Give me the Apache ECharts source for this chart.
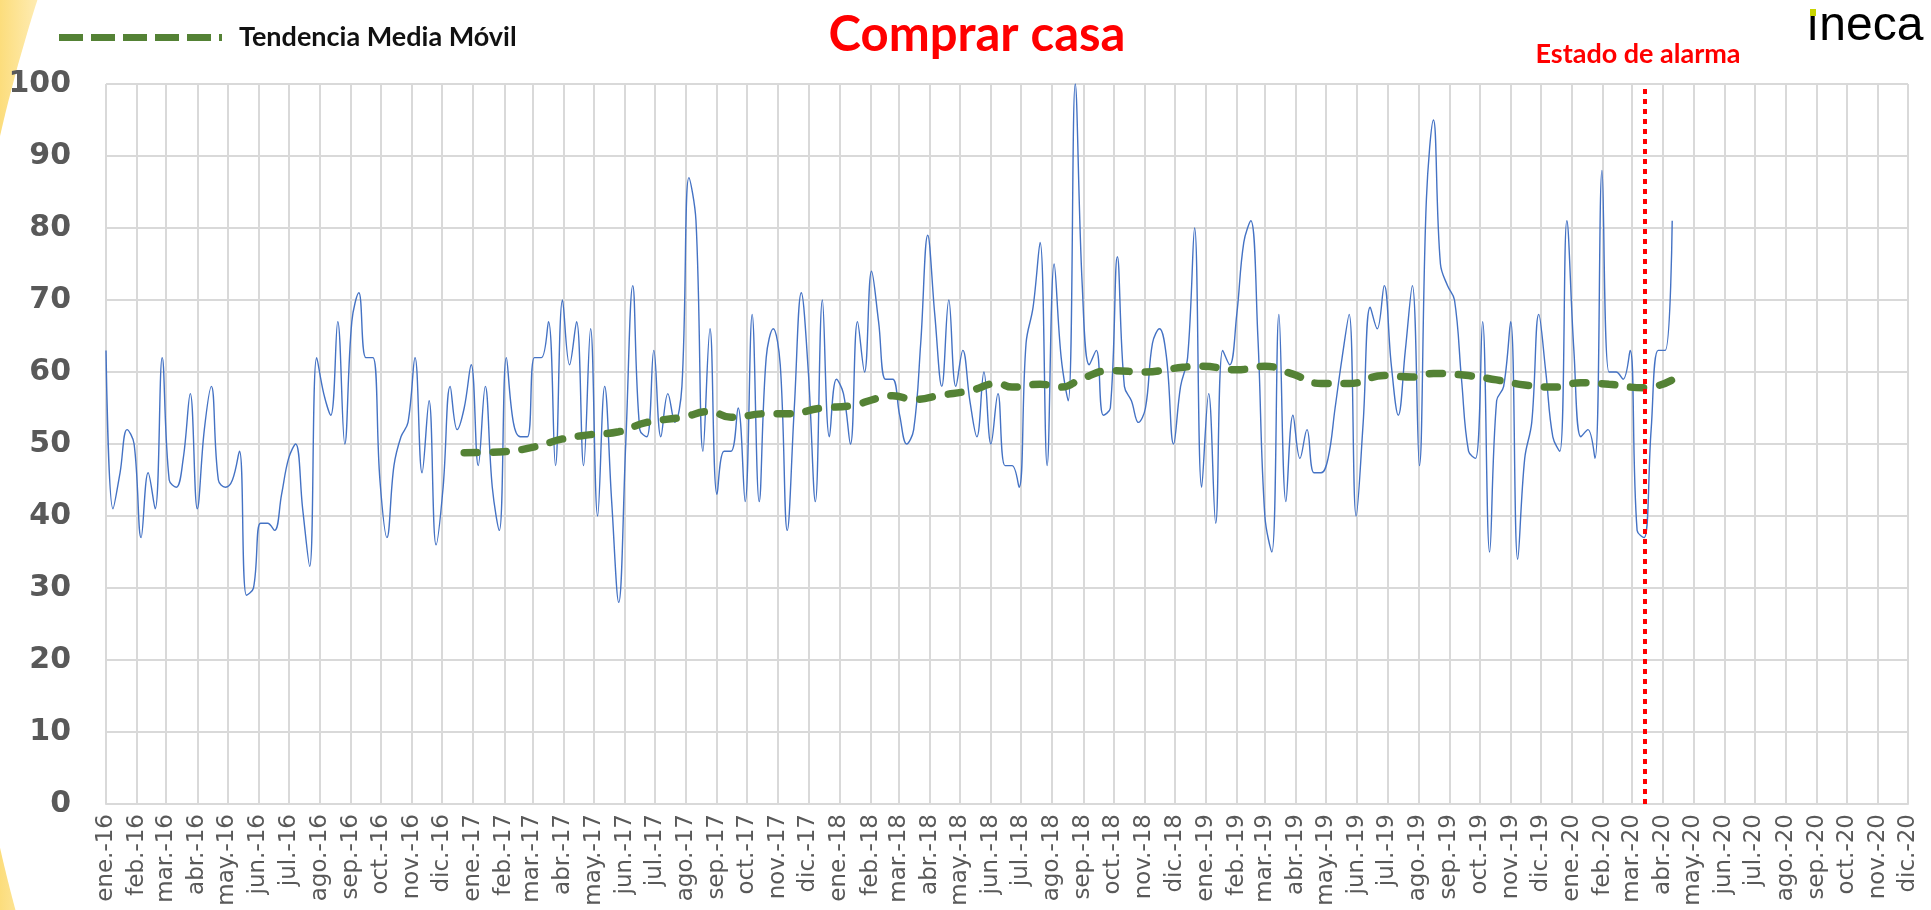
<!DOCTYPE html>
<html>
<head>
<meta charset="utf-8">
<title>Comprar casa</title>
<script src="https://cdn.jsdelivr.net/npm/echarts@6.0.0/dist/echarts.min.js"></script>
<style>
  html, body { margin: 0; padding: 0; background: #fff; }
  #grafico { width: 1931px; height: 910px; }
</style>
</head>
<body>
<div id="grafico"></div>
<script>
// datos semanales (indice 0-100), primera semana 1 ene 2016
const primeraSemana = '2016-01-01';
const busquedas = [
  63, 41, 46, 52, 50, 37, 46, 41, 62, 45,
  44, 48, 57, 41, 52, 58, 45, 44, 45, 49,
  29, 30, 39, 39, 38, 43, 48, 50, 41, 33,
  62, 57, 54, 67, 50, 67, 71, 62, 62, 45,
  37, 47, 51, 53, 62, 46, 56, 36, 44, 58,
  52, 55, 61, 47, 58, 44, 38, 62, 53, 51,
  51, 62, 62, 67, 47, 70, 61, 67, 47, 66,
  40, 58, 42, 28, 50, 72, 52, 51, 63, 51,
  57, 53, 58, 87, 81, 49, 66, 43, 49, 49,
  55, 42, 68, 42, 62, 66, 61, 38, 55, 71,
  60, 42, 70, 51, 59, 57, 50, 67, 60, 74,
  67, 59, 59, 54, 50, 52, 64, 79, 68, 58,
  70, 58, 63, 56, 51, 60, 50, 57, 47, 47,
  44, 64, 69, 78, 47, 75, 62, 56, 100, 72,
  61, 63, 54, 55, 76, 58, 56, 53, 55, 64,
  66, 62, 50, 58, 62, 80, 44, 57, 39, 63,
  61, 68, 78, 81, 65, 40, 35, 68, 42, 54,
  48, 52, 46, 46, 48, 55, 62, 68, 40, 53,
  69, 66, 72, 61, 54, 63, 72, 47, 84, 95,
  75, 72, 70, 59, 49, 48, 67, 35, 56, 58,
  67, 34, 48, 53, 68, 60, 51, 49, 81, 63,
  51, 52, 48, 88, 60, 60, 59, 63, 38, 37,
  52, 63, 63, 81
];

// tendencia media movil (semana, valor)
const semanasMedia = [51, 56, 61, 65, 69, 73, 77, 82, 86, 89, 94, 97, 102, 106, 110, 112, 115, 119, 123, 127, 129, 133,
  136, 139, 143, 148, 152, 156, 161, 165, 169, 173, 177, 182, 186, 189, 194, 198, 202, 206, 210, 214, 219, 223];
const valoresMedia = [48.8, 48.9, 49.6, 50.7, 51.3, 51.7, 53.0, 53.7, 54.5, 53.7, 54.2, 54.2, 55.0, 55.3, 56.4, 56.7, 56.2, 56.8, 57.4, 58.4, 57.9, 58.3,
  57.9, 59.1, 60.2, 60.0, 60.5, 60.8, 60.3, 60.8, 59.7, 58.4, 58.4, 59.5, 59.3, 59.8, 59.5, 58.9, 58.2, 57.9, 58.5, 58.3, 57.8, 58.9];

const meses = ['ene.', 'feb.', 'mar.', 'abr.', 'may.', 'jun.', 'jul.', 'ago.', 'sep.', 'oct.', 'nov.', 'dic.'];
const ejeInicio = '2016-01-01';
const ejeFin = '2020-12-01';
const fechaAlarma = '2020-03-14';

const DIA = 24 * 3600 * 1000;

function fechaSemana(i) {
  return new Date(primeraSemana + 'T00:00:00Z').getTime() + i * 7 * DIA;
}

// icono de leyenda: trazos gruesos como la linea discontinua
function iconoDiscontinuo() {
  let p = 'path://';
  for (let k = 0; k < 5; k++) {
    p += 'M' + (k * 32) + ',0h24v7h-24z';
  }
  p += 'M160,0h3v7h-3z';
  return p;
}

function dibujar() {
  let myChart = echarts.init(document.getElementById('grafico'));

  let serie = busquedas.map((v, i) => [fechaSemana(i), v]);
  let media = semanasMedia.map((s, i) => [fechaSemana(s), valoresMedia[i]]);

  let option = {
    useUTC: true,
    animation: false,
    backgroundColor: '#fff',
    graphic: [
      {
        type: 'rect', z: -100, silent: true,
        shape: { x: 0, y: 0, width: 1931, height: 910 },
        style: {
          fill: new echarts.graphic.LinearGradient(0, 0, 1, 0, [
            { offset: 0, color: '#FCDD7C' },
            { offset: 0.025, color: '#FFF0C2' },
            { offset: 0.08, color: '#ffffff' }
          ])
        }
      },
      {
        type: 'circle', z: -99, silent: true,
        shape: { cx: 1563, cy: 492, r: 1603 },
        style: { fill: '#ffffff' }
      },
      {
        type: 'text', z: 10, silent: true,
        style: { text: 'ıneca', x: 1806, y: 3, font: '48px "Liberation Sans"', fill: '#000' }
      },
      {
        type: 'rect', z: 11, silent: true,
        shape: { x: 1810, y: 9, width: 6, height: 7 },
        style: { fill: '#C8D400' }
      }
    ],
    title: [
      {
        text: 'Comprar casa',
        left: 972, top: 6, textAlign: 'center',
        textStyle: { color: '#FF0000', fontFamily: 'Lato', fontWeight: 'bold', fontSize: 49 }
      },
      {
        text: 'Estado de alarma',
        left: 1633, top: 36, textAlign: 'center',
        textStyle: { color: '#FF0000', fontFamily: 'Lato', fontWeight: 'bold', fontSize: 27 }
      }
    ],
    legend: {
      data: ['Tendencia Media Móvil'],
      left: 54, top: 19,
      icon: iconoDiscontinuo(),
      itemWidth: 163, itemHeight: 7,
      textStyle: { color: '#111', fontFamily: 'Lato', fontWeight: 'bold', fontSize: 27, padding: [0, 0, 0, 12] }
    },
    grid: { left: 106, right: 23, top: 84, bottom: 106 },
    xAxis: {
      type: 'time',
      min: new Date(ejeInicio + 'T00:00:00Z').getTime(),
      max: new Date(ejeFin + 'T00:00:00Z').getTime(),
      minInterval: 28 * DIA,
      maxInterval: 31 * DIA,
      axisLine: { lineStyle: { color: '#D9D9D9', width: 2 } },
      axisTick: { show: false },
      splitLine: { show: true, lineStyle: { color: '#D9D9D9', width: 2 } },
      axisLabel: {
        rotate: 90,
        margin: 10,
        hideOverlap: false,
        color: '#595959',
        fontFamily: 'DejaVu Sans',
        fontSize: 23,
        formatter: function (v) {
          let d = new Date(v);
          return meses[d.getUTCMonth()] + '-' + String(d.getUTCFullYear()).slice(2);
        }
      }
    },
    yAxis: {
      type: 'value',
      min: 0, max: 100, interval: 10,
      axisLine: { show: false },
      axisTick: { show: false },
      splitLine: { lineStyle: { color: '#D9D9D9', width: 2 } },
      axisLabel: {
        margin: 35,
        color: '#595959',
        fontFamily: 'DejaVu Sans',
        fontWeight: 'bold',
        fontSize: 30
      }
    },
    series: [
      {
        name: 'Comprar casa',
        type: 'line',
        data: serie,
        smooth: 0.4,
        showSymbol: false,
        symbol: 'none',
        lineStyle: { color: '#4472C4', width: 1.4 },
        z: 3
      },
      {
        name: 'Tendencia Media Móvil',
        type: 'line',
        data: media,
        smooth: true,
        showSymbol: false,
        symbol: 'none',
        itemStyle: { color: '#548235' },
        lineStyle: { color: '#548235', width: 7.5, type: [13, 16], cap: 'round' },
        z: 4,
        markLine: {
          silent: true,
          symbol: ['none', 'none'],
          label: { show: false },
          lineStyle: { color: '#FF0000', width: 4, type: [5, 5] },
          data: [{ xAxis: new Date(fechaAlarma + 'T00:00:00Z').getTime() }]
        }
      }
    ]
  };
  myChart.setOption(option);
}

dibujar();
</script>
</body>
</html>
